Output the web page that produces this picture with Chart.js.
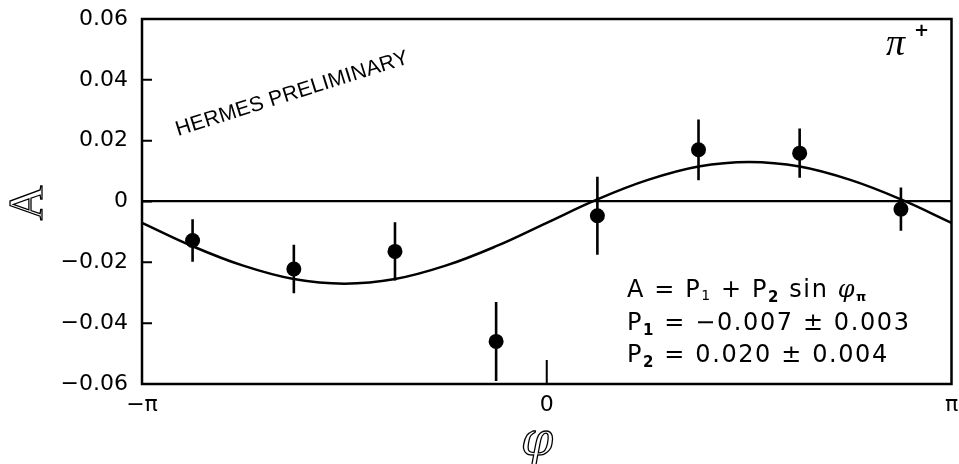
<!DOCTYPE html>
<html>
<head>
<meta charset="utf-8">
<script src="https://cdn.jsdelivr.net/npm/chart.js@4.4.1/dist/chart.umd.min.js"></script>
<style>
  html, body { margin: 0; padding: 0; background: #fff; }
  #wrap { width: 959px; height: 464px; }
</style>
</head>
<body>
<div id="wrap"><canvas id="asym" width="959" height="464"></canvas></div>
<script>
// measured asymmetry per phi bin (bin centres)
const phiBins = [-2.749, -1.963, -1.178, -0.393, 0.393, 1.178, 1.963, 2.749];
const asymValues = [-0.0128, -0.0222, -0.0164, -0.0460, -0.0047, 0.0170, 0.0159, -0.0025];
const asymErrors = [0.0070, 0.0080, 0.0096, 0.0130, 0.0128, 0.0100, 0.0081, 0.0071];

// fit curve
const fitPhi = [-3.1416, -2.7489, -2.3562, -1.9635, -1.5708, -1.1781, -0.7854, -0.3927, 0,
  0.3927, 0.7854, 1.1781, 1.5708, 1.9635, 2.3562, 2.7489, 3.1416];
const fitValues = [-0.0070, -0.0147, -0.0211, -0.0255, -0.0270, -0.0255, -0.0211, -0.0147, -0.0070,
  0.0007, 0.0071, 0.0115, 0.0130, 0.0115, 0.0071, 0.0007, -0.0070];

const xTickValues = [-Math.PI, 0, Math.PI];
const xTickLabels = ["−π", "0", "π"];
const yTickValues = [-0.06, -0.04, -0.02, 0, 0.02, 0.04, 0.06];
const yTickLabels = ["−0.06", "−0.04", "−0.02", "0", "0.02", "0.04", "0.06"];

const errorBarData = [];
phiBins.forEach((x, i) => {
  errorBarData.push({ x: x, y: asymValues[i] - asymErrors[i] });
  errorBarData.push({ x: x, y: asymValues[i] + asymErrors[i] });
  errorBarData.push({ x: x, y: null });
});

function drawParts(ctx, parts, x, y) {
  parts.forEach((p) => {
    ctx.font = p.font;
    ctx.fillText(p.t, x, y + (p.dy || 0));
    x += ctx.measureText(p.t).width;
  });
}

const framePlugin = {
  id: "frame",
  afterDatasetsDraw(chart) {
    const ctx = chart.ctx;
    const a = chart.chartArea;
    const xs = chart.scales.x;
    const ys = chart.scales.y;
    ctx.save();
    ctx.strokeStyle = "#000";
    ctx.lineWidth = 2.5;
    ctx.strokeRect(a.left, a.top, a.right - a.left, a.bottom - a.top);
    ctx.lineWidth = 2;
    ctx.beginPath();
    yTickValues.slice(1, -1).forEach((v) => {
      const py = ys.getPixelForValue(v);
      ctx.moveTo(a.left, py);
      ctx.lineTo(a.left + 10, py);
    });
    const px0 = xs.getPixelForValue(0);
    ctx.moveTo(px0, a.bottom);
    ctx.lineTo(px0, a.bottom - 24);
    ctx.stroke();
    ctx.restore();
  },
  afterDraw(chart) {
    const ctx = chart.ctx;
    ctx.save();
    ctx.fillStyle = "#000";
    ctx.strokeStyle = "#000";

    // y title (rotated script A)
    ctx.save();
    ctx.translate(29, 203);
    ctx.rotate(-Math.PI / 2);
    ctx.font = '48px "Liberation Serif"';
    ctx.textAlign = "center";
    ctx.textBaseline = "middle";
    ctx.lineWidth = 1.3;
    ctx.strokeText("A", 0, 0);
    ctx.restore();

    // x title
    ctx.font = 'italic 46px "DejaVu Serif"';
    ctx.textAlign = "center";
    ctx.textBaseline = "middle";
    ctx.lineWidth = 1.3;
    ctx.strokeText("φ", 537, 443);

    // HERMES PRELIMINARY
    ctx.save();
    ctx.translate(178, 136);
    ctx.rotate(-17.5 * Math.PI / 180);
    ctx.font = '21px "Liberation Sans"';
    ctx.letterSpacing = "0.3px";
    ctx.textAlign = "left";
    ctx.textBaseline = "alphabetic";
    ctx.fillText("HERMES PRELIMINARY", 0, 0);
    ctx.restore();

    // pi+ label
    ctx.textAlign = "left";
    ctx.textBaseline = "alphabetic";
    ctx.font = 'italic 38px "Liberation Serif"';
    ctx.fillText("π", 886, 55);
    ctx.font = 'bold 18px "DejaVu Sans"';
    ctx.fillText("+", 914, 36);

    // fit formula
    ctx.letterSpacing = "1.6px";
    const main = '24px "DejaVu Sans"';
    const sub = 'bold 15px "DejaVu Sans"';
    drawParts(ctx, [
      { t: "A = P", font: main }, { t: "1", font: '14px "DejaVu Sans"', dy: 3 },
      { t: " + P", font: main }, { t: "2", font: sub, dy: 5 },
      { t: " sin ", font: main }, { t: "φ", font: 'italic 24px "DejaVu Serif"' },
      { t: "π", font: 'bold 13px "DejaVu Sans"', dy: 4 },
    ], 627, 297);
    drawParts(ctx, [
      { t: "P", font: main }, { t: "1", font: sub, dy: 5 },
      { t: " = −0.007 ± 0.003", font: main },
    ], 627, 330);
    drawParts(ctx, [
      { t: "P", font: main }, { t: "2", font: sub, dy: 5 },
      { t: " = 0.020 ± 0.004", font: main },
    ], 627, 362);
    ctx.restore();
  },
};

const tickFont = { family: "DejaVu Sans", size: 22 };

new Chart(document.getElementById("asym"), {
  type: "line",
  data: {
    datasets: [
      {
        label: "fit",
        data: fitPhi.map((x, i) => ({ x: x, y: fitValues[i] })),
        borderColor: "#000",
        borderWidth: 2.5,
        tension: 0.4,
        pointRadius: 0,
        fill: false,
      },
      {
        label: "errors",
        data: errorBarData,
        borderColor: "#000",
        borderWidth: 2.6,
        spanGaps: false,
        pointRadius: 0,
        fill: false,
      },
      {
        label: "data",
        data: phiBins.map((x, i) => ({ x: x, y: asymValues[i] })),
        showLine: false,
        pointRadius: 7.5,
        pointBackgroundColor: "#000",
        pointBorderWidth: 0,
      },
    ],
  },
  options: {
    responsive: false,
    animation: false,
    layout: { padding: { top: 19, right: 7, left: 0, bottom: 0 } },
    plugins: { legend: { display: false }, tooltip: { enabled: false } },
    scales: {
      x: {
        type: "linear",
        min: -Math.PI,
        max: Math.PI,
        afterBuildTicks: (s) => { s.ticks = xTickValues.map((v) => ({ value: v })); },
        afterFit: (s) => { s.height = 80; s.paddingLeft = 0; s.paddingRight = 0; },
        ticks: {
          color: "#000",
          font: tickFont,
          padding: 8,
          maxRotation: 0,
          callback: (v, i) => xTickLabels[i],
        },
        grid: { display: false, drawTicks: false },
        border: { display: false },
      },
      y: {
        min: -0.06,
        max: 0.06,
        afterBuildTicks: (s) => { s.ticks = yTickValues.map((v) => ({ value: v })); },
        afterFit: (s) => { s.width = 142; s.paddingTop = 0; s.paddingBottom = 0; },
        ticks: {
          color: "#000",
          font: tickFont,
          padding: 14,
          callback: (v, i) => yTickLabels[i],
        },
        grid: {
          drawTicks: false,
          lineWidth: 2.2,
          color: (c) => (c.tick && Math.abs(c.tick.value) < 1e-9 ? "#000" : "rgba(0,0,0,0)"),
        },
        border: { display: false },
      },
    },
  },
  plugins: [framePlugin],
});
</script>
</body>
</html>
